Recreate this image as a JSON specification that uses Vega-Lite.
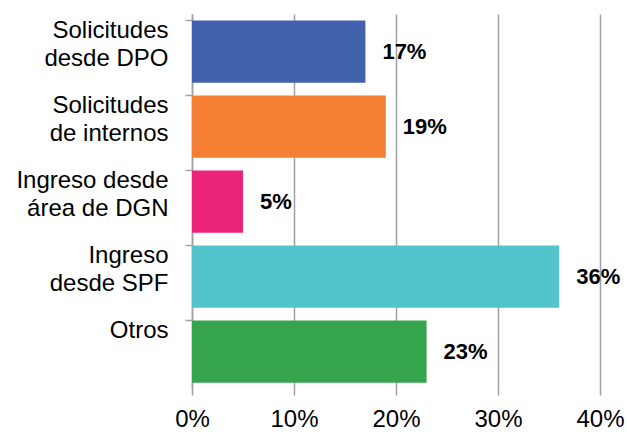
{
  "$schema": "https://vega.github.io/schema/vega-lite/v6.json",
  "width": 408,
  "height": 375,
  "autosize": {"type": "none"},
  "padding": {"left": 192, "top": 14, "right": 27, "bottom": 46},
  "background": "white",
  "config": {"view": {"stroke": null}, "font": "Liberation Sans"},
  "data": {"values": [
    {"cat": "Solicitudes|desde DPO", "value": 0.17, "label": "17%", "color": "#4262AE"},
    {"cat": "Solicitudes|de internos", "value": 0.19, "label": "19%", "color": "#F47F32"},
    {"cat": "Ingreso desde|área de DGN", "value": 0.05, "label": "5%", "color": "#EC2479"},
    {"cat": "Ingreso|desde SPF", "value": 0.36, "label": "36%", "color": "#51C4CC"},
    {"cat": "Otros", "value": 0.23, "label": "23%", "color": "#34A54C"}
  ]},
  "encoding": {
    "y": {
      "field": "cat", "type": "nominal", "sort": null, "title": null,
      "scale": {"paddingInner": 0.17, "paddingOuter": 0.085},
      "axis": {
        "labelExpr": "split(datum.label, '|')",
        "labelFontSize": 24, "labelColor": "#000000", "labelLineHeight": 28,
        "labelPadding": 17, "labelOffset": -21, "tickSize": 7, "bandPosition": 0,
        "domainColor": "#A0A0A5", "tickColor": "#A0A0A5", "domainWidth": 1.5, "tickWidth": 1.5,
        "labelLimit": 200
      }
    },
    "x": {
      "field": "value", "type": "quantitative", "title": null,
      "scale": {"domain": [0, 0.4]},
      "axis": {
        "format": ".0%", "values": [0, 0.1, 0.2, 0.3, 0.4], "labelOverlap": false, "labelFlush": false,
        "labelFontSize": 24, "labelColor": "#000000", "labelPadding": 12,
        "domain": false, "grid": true, "gridColor": "#A0A0A5", "gridWidth": 1.5,
        "tickColor": "#A0A0A5", "tickWidth": 1.5, "tickSize": 6
      }
    }
  },
  "layer": [
    {"mark": {"type": "bar"}, "encoding": {"color": {"field": "color", "type": "nominal", "scale": null}}},
    {"mark": {"type": "text", "align": "left", "baseline": "middle", "dx": 17, "fontSize": 22, "fontWeight": "bold", "color": "#000000"},
     "encoding": {"text": {"field": "label"}}}
  ]
}
